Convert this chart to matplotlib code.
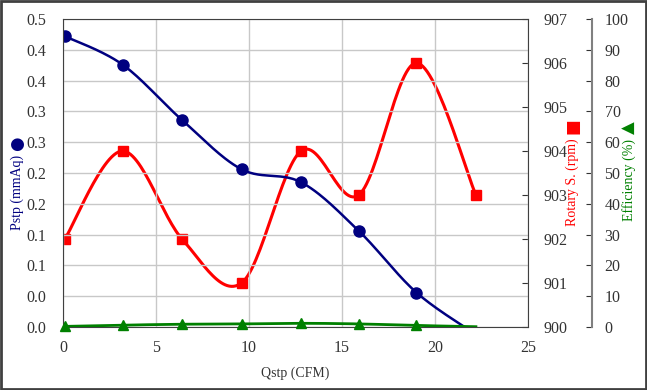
import numpy as np
import matplotlib
matplotlib.use('Agg')
import matplotlib.pyplot as plt

plt.rcParams['font.family'] = ['Liberation Serif', 'DejaVu Sans']

# data
qstp = [0.1, 3.2, 6.4, 9.6, 12.8, 15.9, 19.0, 22.2]
pstp = [0.472, 0.426, 0.336, 0.256, 0.235, 0.156, 0.056, -0.012]
rpm = [902, 904, 902, 901, 904, 903, 906, 903]
eff = [0.2, 0.6, 0.9, 1.0, 1.2, 1.0, 0.5, 0.1]

pstp_ticks = [0, 0.05, 0.1, 0.15, 0.2, 0.25, 0.3, 0.35, 0.4, 0.45, 0.5]
pstp_labels = ['0.0', '0.0', '0.1', '0.1', '0.2', '0.2', '0.3', '0.3', '0.4', '0.4', '0.5']
x_ticks = [0, 5, 10, 15, 20, 25]
rpm_ticks = [900, 901, 902, 903, 904, 905, 906, 907]
eff_ticks = [0, 10, 20, 30, 40, 50, 60, 70, 80, 90, 100]


def smooth(x, y, n=30):
    # excel-like smoothed line (cubic bezier through points)
    pts = np.column_stack([x, y]).astype(float)
    P = np.vstack([pts[0], pts, pts[-1]])
    out = []
    t = np.linspace(0, 1, n)[:, None]
    for i in range(1, len(P) - 2):
        p0, p1, p2, p3 = P[i - 1], P[i], P[i + 1], P[i + 2]
        c1 = p1 + (p2 - p0) / 6
        c2 = p2 - (p3 - p1) / 6
        out.append((1 - t) ** 3 * p1 + 3 * (1 - t) ** 2 * t * c1 + 3 * (1 - t) * t ** 2 * c2 + t ** 3 * p2)
    s = np.vstack(out)
    return s[:, 0], s[:, 1]


txt = '#333333'
fig = plt.figure(figsize=(6.47, 3.90), dpi=100)
ax = fig.add_axes([63 / 647, 63 / 390, 465 / 647, 308 / 390])
ax2 = ax.twinx()
ax3 = ax.twinx()

# Pstp
sx, sy = smooth(qstp, pstp)
ax.plot(sx, sy, color='#000080', lw=1.8)
ax.plot(qstp, pstp, 'o', color='#000080', ms=8)
ax.set_xlim(0, 25)
ax.set_ylim(0, 0.5)
ax.set_xticks(x_ticks)
ax.set_yticks(pstp_ticks)
ax.set_yticklabels(pstp_labels)
ax.grid(True, color='#c8c8c8', lw=1)
ax.set_axisbelow(True)
ax.tick_params(axis='both', length=0, labelsize=11.5, colors=txt)
ax.tick_params(axis='y', pad=12)
ax.tick_params(axis='x', pad=9)
for sp in ax.spines.values():
    sp.set_color('#404040')
ax.set_xlabel('Qstp (CFM)', fontsize=10, color=txt, labelpad=8)

# rotary speed
sx, sy = smooth(qstp, rpm)
ax2.plot(sx, sy, color='#ff0000', lw=2.2)
ax2.plot(qstp, rpm, 's', color='#ff0000', ms=7.5)
ax2.set_ylim(900, 907)
ax2.set_yticks(rpm_ticks)
ax2.tick_params(axis='y', direction='in', length=4, pad=11, labelsize=11.5, colors=txt)
for sp in ax2.spines.values():
    sp.set_visible(False)

# efficiency
sx, sy = smooth(qstp, eff)
ax3.plot(sx, sy, color='#008000', lw=2)
ax3.plot(qstp[:-1], eff[:-1], '^', color='#008000', ms=7.5, clip_on=False)
ax3.set_ylim(0, 100)
ax3.set_yticks(eff_ticks)
for name in ['left', 'top', 'bottom']:
    ax3.spines[name].set_visible(False)
ax3.spines['right'].set_position(('axes', (592 - 63) / 465))
ax3.spines['right'].set_color('#808080')
ax3.spines['right'].set_linewidth(1.5)
ax3.tick_params(axis='y', direction='in', length=4, pad=9, labelsize=11.5, colors=txt)

ax.set_zorder(3)
ax.patch.set_visible(False)
ax2.set_zorder(2)
ax3.set_zorder(4)

# axis titles with their series symbols
fig.text(17 / 647, 1 - 192 / 390, 'Pstp (mmAq)', rotation=90, ha='center', va='center',
         color='#000080', fontsize=10)
fig.text(17 / 647, 1 - 144 / 390, '\u25CF', rotation=90, ha='center', va='center',
         color='#000080', fontsize=12, family='DejaVu Sans')
fig.text(572 / 647, 1 - 182 / 390, 'Rotary S. (rpm)', rotation=90, ha='center', va='center',
         color='#ff0000', fontsize=10)
fig.text(572 / 647, 1 - 126 / 390, '\u25A0', rotation=90, ha='center', va='center',
         color='#ff0000', fontsize=12, family='DejaVu Sans')
fig.text(629 / 647, 1 - 180 / 390, 'Efficiency (%)', rotation=90, ha='center', va='center',
         color='#008000', fontsize=10)
fig.text(629 / 647, 1 - 128 / 390, '\u25B2', rotation=90, ha='center', va='center',
         color='#008000', fontsize=12, family='DejaVu Sans')

fig.patches.append(plt.Rectangle((0.002, 0.003), 0.996, 0.994, transform=fig.transFigure,
                                 fill=False, edgecolor='#404040', lw=2))

fig.savefig('out.png', dpi=100)
